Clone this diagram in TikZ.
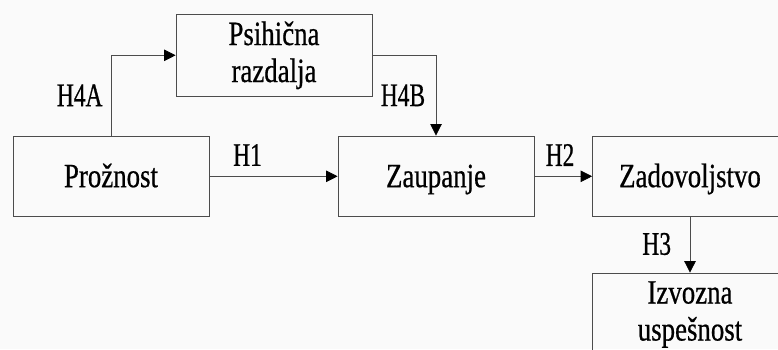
\documentclass[tikz,border=0pt]{standalone}
\usepackage{fontspec}
\setmainfont{Liberation Serif}[FakeStretch=0.79,FakeBold=0.6]
\newfontfamily\labfont{Liberation Serif}[FakeStretch=0.71,FakeBold=0.6]
\usetikzlibrary{arrows.meta}
\begin{document}
\begin{tikzpicture}[x=1pt,y=-1pt,
  box/.style={draw=black!70, line width=0.8pt, minimum width=196pt, minimum height=80.7pt, inner sep=0pt, align=center, font=\fontsize{34}{37}\selectfont},
  one/.style={text height=22.7pt, text depth=1pt},
  lab/.style={inner sep=0pt, font=\labfont\fontsize{33}{36}\selectfont},
  arr/.style={draw=black!70, line width=0.8pt, -{Triangle[length=11.5pt,width=11.5pt,fill=black,color=black]}}]
\useasboundingbox[fill=white!98!black] (0,0) rectangle (778,349);
\clip (0,0) rectangle (778,349);
\node[box, one] (pro) at (111,176.3) {Prožnost};
\node[box, minimum height=82.7pt] (psi) at (274,55.3) {Psihična\\razdalja};
\node[box, one] (zau) at (436,176.3) {Zaupanje};
\node[box, one, minimum width=195pt] (zad) at (690,176.3) {Zadovoljstvo};
\node[box, minimum width=195pt, minimum height=83pt] (izv) at (690,314.5) {Izvozna\\uspešnost};
\draw[arr] (pro.north) |- (psi.west);
\draw[arr] (psi.east) -| (zau.north);
\draw[arr] (pro.east) -- (zau.west);
\draw[arr] (zau.east) -- (zad.west);
\draw[arr] (zad.south) -- (izv.north);
\node[lab] (l4a) at (79.7,95.3) {H4A};
\node[lab] (l4b) at (403,95.3) {H4B};
\node[lab] (l1) at (247.5,155) {H1};
\node[lab] (l2) at (560,155) {H2};
\node[lab] (l3) at (656.7,244) {H3};
\end{tikzpicture}
\end{document}
